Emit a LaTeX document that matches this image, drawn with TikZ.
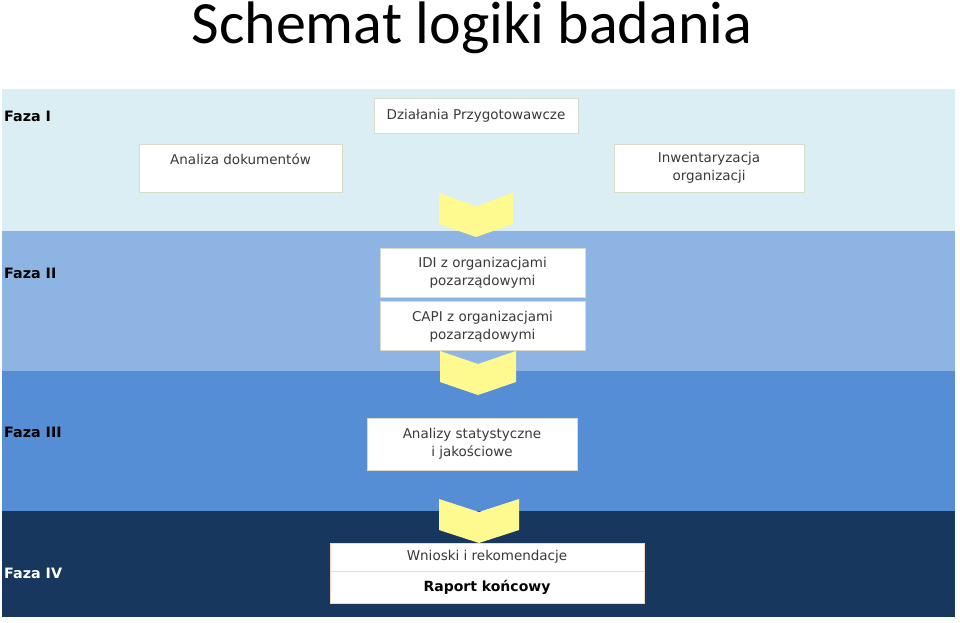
\documentclass[tikz,border=0pt]{standalone}
\usepackage{fontspec}
\setmainfont{DejaVu Sans}
\newfontfamily\titlefont{Carlito}
\usetikzlibrary{positioning}
\definecolor{phaseA}{HTML}{DBEEF4}
\definecolor{phaseB}{HTML}{8EB4E3}
\definecolor{phaseC}{HTML}{558ED5}
\definecolor{phaseD}{HTML}{17375E}
\definecolor{chevfill}{HTML}{FFFA8F}
\definecolor{boxline}{HTML}{D6DCC9}
\definecolor{boxlineB}{HTML}{F0D9C6}
\definecolor{boxtext}{HTML}{3A3A3A}
\tikzset{
  ph box/.style={
    rectangle, draw=boxline, line width=0.8pt, fill=white,
    align=center, inner sep=0pt, text=boxtext,
    font=\fontsize{13.5}{18}\selectfont
  },
  ph label/.style={
    anchor=west, inner sep=0pt,
    font=\fontsize{14.3}{16}\selectfont\bfseries
  },
  pics/chevron/.style={
    code={\fill[chevfill] (-#1,0) -- (0,13) -- (#1,0) -- (#1,31) -- (0,44) -- (-#1,31) -- cycle;}
  }
}

\begin{document}
\begin{tikzpicture}[x=1pt, y=-1pt, node distance=4pt]
  \useasboundingbox (0,0) rectangle (960,623);
  \fill[white] (0,0) rectangle (960,623);

  \node (title) [anchor=base, inner sep=0pt, font=\titlefont\fontsize{60}{70}\selectfont] at (472,44) {Schemat logiki badania};

  \fill[phaseA] (2,89) rectangle (955,231);
  \fill[phaseB] (2,231) rectangle (955,371);
  \fill[phaseC] (2,371) rectangle (955,511);
  \fill[phaseD] (2,511) rectangle (955,617);

  \node (f1) [ph label] at (4,116) {Faza I};
  \node (f2) [ph label] at (4,273) {Faza II};
  \node (f3) [ph label] at (4,432) {Faza III};
  \node (f4) [ph label, text=white] at (4,573) {Faza IV};

  \pic at (476,193) {chevron=37};
  \pic at (478,351) {chevron=38};
  \pic at (479,499) {chevron=40};

  \node (prep) [ph box, minimum width=204pt, minimum height=35pt] at (476,115.5) {Działania Przygotowawcze};
  \node (docs) [ph box, minimum width=203pt, minimum height=48pt] at (240.5,168) {Analiza dokumentów\\~};
  \node (inv) [ph box, minimum width=190pt, minimum height=48pt] at (709,168) {Inwentaryzacja\\organizacji};

  \node (idi) [ph box, minimum width=205pt, minimum height=49pt] at (482.5,272.5) {IDI z organizacjami\\pozarządowymi};
  \node (capi) [ph box, minimum width=205pt, minimum height=49pt, below=of idi] {CAPI z organizacjami\\pozarządowymi};

  \node (stat) [ph box, minimum width=210pt, minimum height=52pt] at (472,444) {Analizy statystyczne\\i jakościowe};

  \node (rec) [ph box, draw=boxlineB, minimum width=314pt, minimum height=28pt] at (487,557) {Wnioski i rekomendacje};
  \node (rep) [ph box, draw=boxlineB, text=black, font=\fontsize{14}{18}\selectfont\bfseries, minimum width=314pt, minimum height=32pt, below=0pt of rec] {Raport końcowy};
\end{tikzpicture}
\end{document}
